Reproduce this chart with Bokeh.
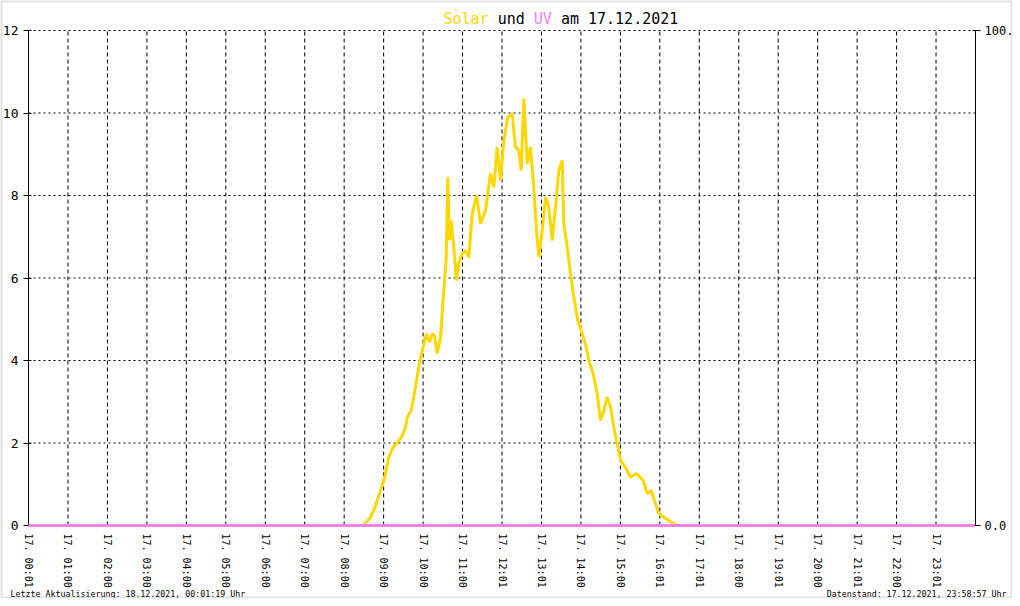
from bokeh.plotting import figure
from bokeh.models import Range1d, LinearAxis, FixedTicker, PrintfTickFormatter, Label, BoxAnnotation
from bokeh.embed import file_html
from bokeh.resources import INLINE

# ---- data ----
hour_ticks = list(range(24))
hour_labels = ["17. 00:01", "17. 01:00", "17. 02:00", "17. 03:00", "17. 04:00", "17. 05:00",
               "17. 06:00", "17. 07:00", "17. 08:00", "17. 09:00", "17. 10:00", "17. 11:00",
               "17. 12:01", "17. 13:01", "17. 14:00", "17. 15:00", "17. 16:01", "17. 17:01",
               "17. 18:00", "17. 19:01", "17. 20:00", "17. 21:01", "17. 22:00", "17. 23:01"]

solar_hours = [0.00, 8.48, 8.558, 8.667, 8.769, 8.878, 8.964, 9.048, 9.131, 9.243, 9.359, 9.471,
               9.554, 9.598, 9.699, 9.808, 9.892, 9.978, 10.087, 10.163, 10.231, 10.289, 10.358,
               10.441, 10.525, 10.586, 10.626, 10.670, 10.713, 10.779, 10.847, 10.905, 10.991,
               11.075, 11.159, 11.245, 11.354, 11.455, 11.582, 11.709, 11.792, 11.878, 11.962,
               12.046, 12.147, 12.259, 12.342, 12.426, 12.487, 12.553, 12.639, 12.722, 12.806,
               12.874, 12.933, 13.019, 13.103, 13.186, 13.272, 13.356, 13.440, 13.526, 13.566,
               13.652, 13.736, 13.820, 13.921, 14.033, 14.116, 14.200, 14.311, 14.413, 14.496,
               14.580, 14.666, 14.750, 14.833, 14.920, 15.003, 15.130, 15.257, 15.409, 15.578,
               15.680, 15.782, 15.890, 15.974, 16.101, 16.227, 16.354, 16.448, 23.98]
solar_values = [0, 0, 0.08, 0.20, 0.41, 0.73, 0.97, 1.26, 1.66, 1.90, 2.02, 2.18,
                2.38, 2.62, 2.79, 3.35, 3.84, 4.24, 4.65, 4.44, 4.65, 4.60, 4.17,
                4.56, 5.70, 6.50, 8.44, 6.91, 7.39, 6.75, 5.94, 6.35, 6.59,
                6.67, 6.50, 7.56, 8.00, 7.32, 7.64, 8.53, 8.20, 9.17, 8.36,
                9.33, 9.90, 9.98, 9.17, 9.10, 8.61, 10.35, 8.77, 9.17, 8.20,
                7.15, 6.50, 7.15, 7.96, 7.72, 6.91, 7.72, 8.61, 8.85, 7.32,
                6.75, 6.10, 5.54, 4.97, 4.65, 4.40, 4.00, 3.68, 3.19, 2.55,
                2.79, 3.11, 2.87, 2.38, 1.98, 1.58, 1.41, 1.17, 1.26, 1.09,
                0.77, 0.85, 0.53, 0.29, 0.20, 0.12, 0.05, 0.0, 0.0]

uv_hours = [0.0, 23.98]
uv_values = [0.0, 0.0]

left_ticks = [0, 2, 4, 6, 8, 10, 12]
right_ticks = [0, 100]

title_parts = ["Solar", "und", "UV", "am 17.12.2021"]
footer_left = "Letzte Aktualisierung: 18.12.2021, 00:01:19 Uhr"
footer_right = "Datenstand: 17.12.2021, 23:58:57 Uhr"

# ---- layout (pixels) ----
W, H = 1012, 598
PL, PR, PT, PB = 28, 975, 30, 525          # plot area in canvas pixels
X0, X1 = hour_ticks[0], 24
Y0, Y1 = left_ticks[0], left_ticks[-1]
U0, U1 = right_ticks[0], right_ticks[-1]
sx = (PR - PL) / (X1 - X0)
sy = (PB - PT) / (Y1 - Y0)
su = (PB - PT) / (U1 - U0)

SOLAR = "#FFD700"
UV = "#EE82EE"
MONO = "DejaVu Sans Mono"

p = figure(width=W, height=H, min_border=0,
           x_range=Range1d(X0 - PL / sx, X1 + (W - PR) / sx),
           y_range=Range1d(Y0 - (H - PB) / sy, Y1 + PT / sy),
           output_backend="svg", toolbar_location=None,
           background_fill_color="white", border_fill_color="white")
p.outline_line_color = None
p.grid.visible = False
p.extra_y_ranges = {"uv": Range1d(U0 - (H - PB) / su, U1 + PT / su)}

# axes, fixed at the plot-area edges
xa = p.xaxis[0]
xa.fixed_location = Y0
xa.bounds = (X0, X1)
xa.ticker = FixedTicker(ticks=hour_ticks)
xa.major_label_overrides = {t: l for t, l in zip(hour_ticks, hour_labels)}
xa.major_label_orientation = "vertical"
xa.major_label_text_font = MONO
xa.major_label_text_font_size = "10px"
xa.major_label_text_color = "black"
xa.major_label_standoff = 8
xa.major_tick_out = 0
xa.major_tick_in = 0
xa.minor_tick_out = 0
xa.minor_tick_in = 0
xa.axis_line_color = None

ya = p.yaxis[0]
ya.fixed_location = X0
ya.bounds = (Y0, Y1)
ya.ticker = FixedTicker(ticks=left_ticks)
ya.major_label_text_font = MONO
ya.major_label_text_font_size = "13px"
ya.major_label_text_color = "black"
ya.major_label_standoff = 5
ya.major_tick_out = 5
ya.major_tick_in = 3
ya.minor_tick_out = 0
ya.minor_tick_in = 0
ya.axis_line_color = "black"

ra = LinearAxis(y_range_name="uv", ticker=FixedTicker(ticks=right_ticks),
                formatter=PrintfTickFormatter(format="%.1f"))
ra.fixed_location = X1
ra.bounds = (U0, U1)
ra.major_label_text_font = MONO
ra.major_label_text_font_size = "12px"
ra.major_label_text_color = "black"
ra.major_label_standoff = 4
ra.major_tick_out = 5
ra.major_tick_in = 3
ra.minor_tick_out = 0
ra.minor_tick_in = 0
ra.axis_line_color = "black"
p.add_layout(ra, "right")

# grid lines (from the tick arrays, limited to the plot area)
p.segment(x0=hour_ticks, y0=[Y0] * len(hour_ticks), x1=hour_ticks, y1=[Y1] * len(hour_ticks),
          line_color="black", line_width=1, line_dash="4 3")
p.segment(x0=[X0] * len(left_ticks), y0=left_ticks, x1=[X1] * len(left_ticks), y1=left_ticks,
          line_color="black", line_width=1, line_dash="2 3")

# series
p.line(solar_hours, solar_values, line_color=SOLAR, line_width=3)
uv_r = p.line(uv_hours, uv_values, line_color=UV, line_width=3, y_range_name="uv")
uv_r.level = "overlay"

# title pieces (monospace, placed one after another)
char_w = 0.602 * 15 / sx
t_x = X0 + (443 - PL) / sx
t_y = Y0 + (PB - 18.3) / sy
cols = [SOLAR, "black", UV, "black"]
pos = 0
for txt, col in zip(title_parts, cols):
    p.add_layout(Label(x=t_x + pos * char_w, y=t_y, text=txt, text_font=MONO,
                       text_font_size="15px", text_color=col,
                       text_align="left", text_baseline="alphabetic"))
    pos += len(txt) + 1

# footer texts
f_y = Y0 - (593.5 - PB) / sy
p.add_layout(Label(x=X0 + (10 - PL) / sx, y=f_y, text=footer_left,
                   text_font=MONO, text_font_size="8.3px", text_color="black",
                   text_align="left", text_baseline="alphabetic"))
p.add_layout(Label(x=X0 + (1006 - PL) / sx, y=f_y, text=footer_right,
                   text_font=MONO, text_font_size="8.3px", text_color="black",
                   text_align="right", text_baseline="alphabetic"))

# thin grey frame around the whole picture
p.add_layout(BoxAnnotation(fill_alpha=0, line_color="#9a9a9a", line_width=4, level="overlay"))

open("out.html", "w").write(file_html(p, INLINE))
